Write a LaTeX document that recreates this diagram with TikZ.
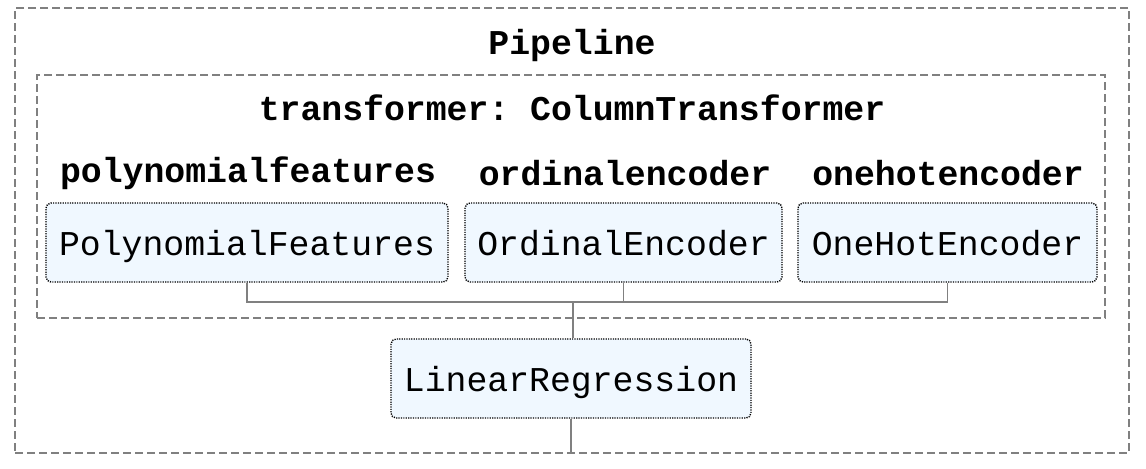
\documentclass[tikz,border=0pt]{standalone}
\usepackage{fontspec}
\setmonofont{Liberation Mono}
\definecolor{estfill}{HTML}{F0F8FF}

\tikzset{
    frame/.style={draw=gray, line width=0.65pt, dash pattern=on 4pt off 2pt, inner sep=0pt},
    est/.style={draw=black, fill=estfill, rounded corners=2.5pt, line width=0.7pt,
        dash pattern=on 0.6pt off 0.6pt, minimum height=39.5pt, inner sep=0pt,
        text height=14pt, text depth=1pt,
        font=\ttfamily\fontsize{17.4}{20}\selectfont},
    title/.style={font=\ttfamily\bfseries\fontsize{17.4}{20}\selectfont, inner sep=0pt},
    link/.style={draw=gray, line width=0.65pt}
}

\begin{document}
\begin{tikzpicture}[x=0.5pt, y=-0.5pt]
    \useasboundingbox (0,0) rectangle (1146,468);

    % cadres en tirets
    \node[frame, minimum width=557pt, minimum height=222.5pt] (pipe) at (572,230.5) {};
    \node[frame, minimum width=534pt, minimum height=121.5pt] (trans) at (571,196.5) {};

    \node[title] (pipelbl) at (572,45) {Pipeline};
    \node[title] (translbl) at (572,108) {transformer: ColumnTransformer};
    \node[title] (polylbl) at (248,173) {polynomialfeatures};
    \node[title] (ordlbl) at (625,173) {ordinalencoder};
    \node[title] (ohelbl) at (948,173) {onehotencoder};

    \node[est, minimum width=201pt] (poly) at (247,242.5) {PolynomialFeatures};
    \node[est, minimum width=158.5pt] (ord) at (623.5,242.5) {OrdinalEncoder};
    \node[est, minimum width=149.5pt] (ohe) at (947.5,242.5) {OneHotEncoder};
    \node[est, minimum width=180pt] (lr) at (571,378.5) {LinearRegression};

    % liaisons
    \coordinate (join) at (573,302);
    \draw[link] (poly.south) |- (join);
    \draw[link] (ohe.south) |- (join);
    \draw[link] (ord.south) -- (ord.south |- join);
    \draw[link] (join) -- (join |- lr.north);
    \draw[link] (lr.south) -- (lr.south |- pipe.south);
\end{tikzpicture}
\end{document}
